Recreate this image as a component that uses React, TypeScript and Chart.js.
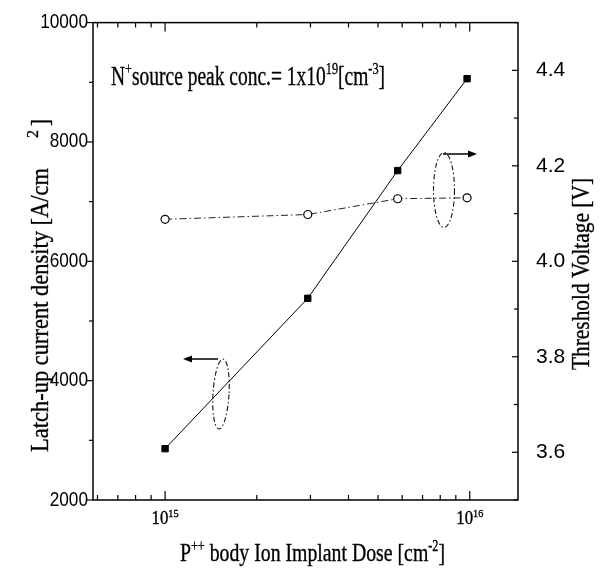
import React, { useEffect, useRef } from "react";
import { Chart, registerables } from "chart.js";

Chart.register(...registerables);

// ---- data ----
const DOSE = [1e15, 2.94e15, 5.8e15, 9.8e15];
const LATCHUP = [2860, 5380, 7520, 9060];
const VTH = [4.088, 4.098, 4.131, 4.133];

const X_MIN = 5.8e14;
const X_MAX = 1.44e16;
const X_TICKS = [1e15, 1e16];
const X_TICK_EXP = ["15", "16"];
const Y_TICKS = [2000, 4000, 6000, 8000, 10000];
const Y1_TICKS = [3.6, 3.8, 4.0, 4.2, 4.4];

const SERIF = "'Liberation Serif', 'DejaVu Serif', serif";
const SANS = "'Liberation Sans', Arial, sans-serif";

type Seg = { t: string; sup?: boolean };

function drawRich(ctx: CanvasRenderingContext2D, segs: Seg[], size: number, x: number, y: number, targetW?: number, align: "left" | "center" = "left") {
  const supSize = Math.round(size * 0.62);
  let w = 0;
  const widths = segs.map((s) => {
    ctx.font = `${s.sup ? supSize : size}px ${SERIF}`;
    const m = ctx.measureText(s.t).width;
    w += m;
    return m;
  });
  const sx = targetW ? targetW / w : 1;
  ctx.save();
  ctx.translate(align === "center" ? x - (w * sx) / 2 : x, y);
  ctx.scale(sx, 1);
  ctx.textBaseline = "alphabetic";
  ctx.textAlign = "left";
  ctx.lineWidth = 0.35;
  ctx.strokeStyle = ctx.fillStyle;
  let cx = 0;
  segs.forEach((s, i) => {
    ctx.font = `${s.sup ? supSize : size}px ${SERIF}`;
    const yy = s.sup ? -size * 0.4 : 0;
    ctx.fillText(s.t, cx, yy);
    ctx.strokeText(s.t, cx, yy);
    cx += widths[i];
  });
  ctx.restore();
}

function arrow(ctx: CanvasRenderingContext2D, x1: number, y1: number, x2: number, y2: number) {
  ctx.save();
  ctx.strokeStyle = "#000";
  ctx.fillStyle = "#000";
  ctx.lineWidth = 1.5;
  ctx.setLineDash([]);
  const dir = Math.sign(x2 - x1);
  ctx.beginPath();
  ctx.moveTo(x1, y1);
  ctx.lineTo(x2 - dir * 6, y2);
  ctx.stroke();
  ctx.beginPath();
  ctx.moveTo(x2, y2);
  ctx.lineTo(x2 - dir * 9, y2 - 3.5);
  ctx.lineTo(x2 - dir * 9, y2 + 3.5);
  ctx.closePath();
  ctx.fill();
  ctx.restore();
}

function dashEllipse(ctx: CanvasRenderingContext2D, cx: number, cy: number, rx: number, ry: number, rot: number) {
  ctx.save();
  ctx.strokeStyle = "#111";
  ctx.lineWidth = 1.1;
  ctx.setLineDash([5, 2.5, 1.5, 2.5]);
  ctx.beginPath();
  ctx.ellipse(cx, cy, rx, ry, rot, 0, Math.PI * 2);
  ctx.stroke();
  ctx.restore();
}

const decorPlugin = {
  id: "decor",
  afterDraw(chart: any) {
    const { ctx, chartArea: a, scales } = chart;
    const xs = scales.x, ys = scales.y, y1 = scales.y1;
    ctx.save();
    ctx.strokeStyle = "#000";
    ctx.lineWidth = 1.5;
    ctx.setLineDash([]);
    ctx.strokeRect(a.left, a.top, a.right - a.left, a.bottom - a.top);

    ctx.lineWidth = 1.2;
    // x ticks (inward, bottom and top)
    for (let d = 14; d <= 16; d++) {
      for (let m = 1; m <= 9; m++) {
        const v = m * Math.pow(10, d);
        if (v < X_MIN || v > X_MAX) continue;
        const px = xs.getPixelForValue(v);
        const len = m === 1 ? 9 : 5;
        ctx.beginPath();
        ctx.moveTo(px, a.bottom);
        ctx.lineTo(px, a.bottom - len);
        ctx.moveTo(px, a.top);
        ctx.lineTo(px, a.top + len);
        ctx.stroke();
      }
    }
    // left y ticks (outward)
    for (let v = 2000; v <= 10000; v += 1000) {
      const py = ys.getPixelForValue(v);
      const len = v % 2000 === 0 ? 6 : 4;
      ctx.beginPath();
      ctx.moveTo(a.left, py);
      ctx.lineTo(a.left - len, py);
      ctx.stroke();
    }
    // right y ticks (inward)
    for (let i = 35; i <= 45; i++) {
      const v = i / 10;
      const py = y1.getPixelForValue(v);
      const len = i % 2 === 0 ? 6 : 4;
      ctx.beginPath();
      ctx.moveTo(a.right, py);
      ctx.lineTo(a.right - len, py);
      ctx.stroke();
    }
    ctx.restore();

    // left tick labels (condensed), from the scale's own ticks
    ctx.save();
    ctx.fillStyle = "#000";
    ctx.font = `20px ${SANS}`;
    ctx.textAlign = "right";
    ctx.textBaseline = "middle";
    ys.ticks.forEach((t: any) => {
      const py = ys.getPixelForValue(t.value);
      ctx.save();
      ctx.translate(a.left - 5, py);
      ctx.scale(0.86, 1);
      ctx.fillText(String(t.value), 0, 0);
      ctx.restore();
    });
    ctx.restore();

    ctx.save();
    ctx.fillStyle = "#000";
    // x tick labels from the scale's own ticks
    xs.ticks.forEach((t: any, i: number) => {
      const px = xs.getPixelForValue(t.value);
      drawRich(ctx, [{ t: "10" }, { t: X_TICK_EXP[i], sup: true }], 18, px, a.bottom + 24, 27, "center");
    });

    // annotation text
    drawRich(ctx, [
      { t: "N" }, { t: "+", sup: true }, { t: "source peak conc.= 1x10" }, { t: "19", sup: true },
      { t: "[cm" }, { t: "-3", sup: true }, { t: "]" },
    ], 27, 111, 85, 274);

    // x title
    drawRich(ctx, [
      { t: "P" }, { t: "++", sup: true }, { t: " body Ion Implant Dose [cm" }, { t: "-2", sup: true }, { t: "]" },
    ], 26, 180, 561, 265);

    // left title (rotated)
    ctx.save();
    ctx.translate(48, 452);
    ctx.rotate(-Math.PI / 2);
    drawRich(ctx, [{ t: "Latch-up current density [A/cm" }], 26, 0, 0, 284);
    drawRich(ctx, [{ t: "2", sup: true }], 26, 314, 0);
    drawRich(ctx, [{ t: "]" }], 26, 326, 0, 7);
    ctx.restore();

    // right title (rotated)
    ctx.save();
    ctx.translate(589, 370);
    ctx.rotate(-Math.PI / 2);
    drawRich(ctx, [{ t: "Threshold Voltage [V]" }], 25, 0, 0, 192);
    ctx.restore();
    ctx.restore();

    // arrows & ellipses
    arrow(ctx, 218, 359, 183, 359);
    dashEllipse(ctx, 221, 394, 8, 35, 0.06);
    arrow(ctx, 443, 154, 477, 154);
    dashEllipse(ctx, 444, 190, 10.5, 37.5, 0);
  },
};

export default function App() {
  const ref = useRef<HTMLCanvasElement | null>(null);
  useEffect(() => {
    if (!ref.current) return;
    const chart = new Chart(ref.current, {
      type: "line",
      data: {
        datasets: [
          {
            label: "Latch-up current density",
            data: DOSE.map((x, i) => ({ x, y: LATCHUP[i] })),
            yAxisID: "y",
            borderColor: "#000",
            borderWidth: 1,
            pointStyle: "rect",
            pointRadius: 4.5,
            pointBackgroundColor: "#000",
            pointBorderColor: "#000",
            pointBorderWidth: 1,
            tension: 0,
          },
          {
            label: "Threshold Voltage",
            data: DOSE.map((x, i) => ({ x, y: VTH[i] })),
            yAxisID: "y1",
            borderColor: "#222",
            borderWidth: 1,
            borderDash: [7, 3, 1.5, 3],
            pointStyle: "circle",
            pointRadius: 4,
            pointBackgroundColor: "#fff",
            pointBorderColor: "#000",
            pointBorderWidth: 1.2,
            tension: 0,
          },
        ],
      },
      options: {
        animation: false,
        responsive: false,
        devicePixelRatio: 1,
        layout: { padding: { top: 17, left: 0, right: 0, bottom: 0 } },
        plugins: { legend: { display: false }, tooltip: { enabled: false } },
        scales: {
          x: {
            type: "logarithmic",
            position: "bottom",
            min: X_MIN,
            max: X_MAX,
            grid: { display: false },
            border: { display: false },
            ticks: { display: false },
            afterBuildTicks: (s: any) => { s.ticks = X_TICKS.map((v) => ({ value: v })); },
            afterFit: (s: any) => { s.height = 77; },
          },
          y: {
            type: "linear",
            position: "left",
            min: 2000,
            max: 10000,
            grid: { display: false },
            border: { display: false },
            ticks: { display: false },
            afterBuildTicks: (s: any) => { s.ticks = Y_TICKS.map((v) => ({ value: v })); },
            afterFit: (s: any) => { s.width = 93; },
          },
          y1: {
            type: "linear",
            position: "right",
            min: 3.5,
            max: 4.5,
            grid: { display: false },
            border: { display: false },
            ticks: {
              padding: 10,
              color: "#000",
              font: { family: SANS, size: 21 },
              callback: (v: any) => Number(v).toFixed(1),
            },
            afterBuildTicks: (s: any) => { s.ticks = Y1_TICKS.map((v) => ({ value: v })); },
            afterFit: (s: any) => { s.width = 83; },
          },
        },
      },
      plugins: [decorPlugin],
    } as any);
    return () => chart.destroy();
  }, []);
  return (
    <div style={{ position: "absolute", left: 0, top: 0, width: 601, height: 577, background: "#fff" }}>
      <canvas ref={ref} width={601} height={577} style={{ display: "block", width: 601, height: 577 }} />
    </div>
  );
}
